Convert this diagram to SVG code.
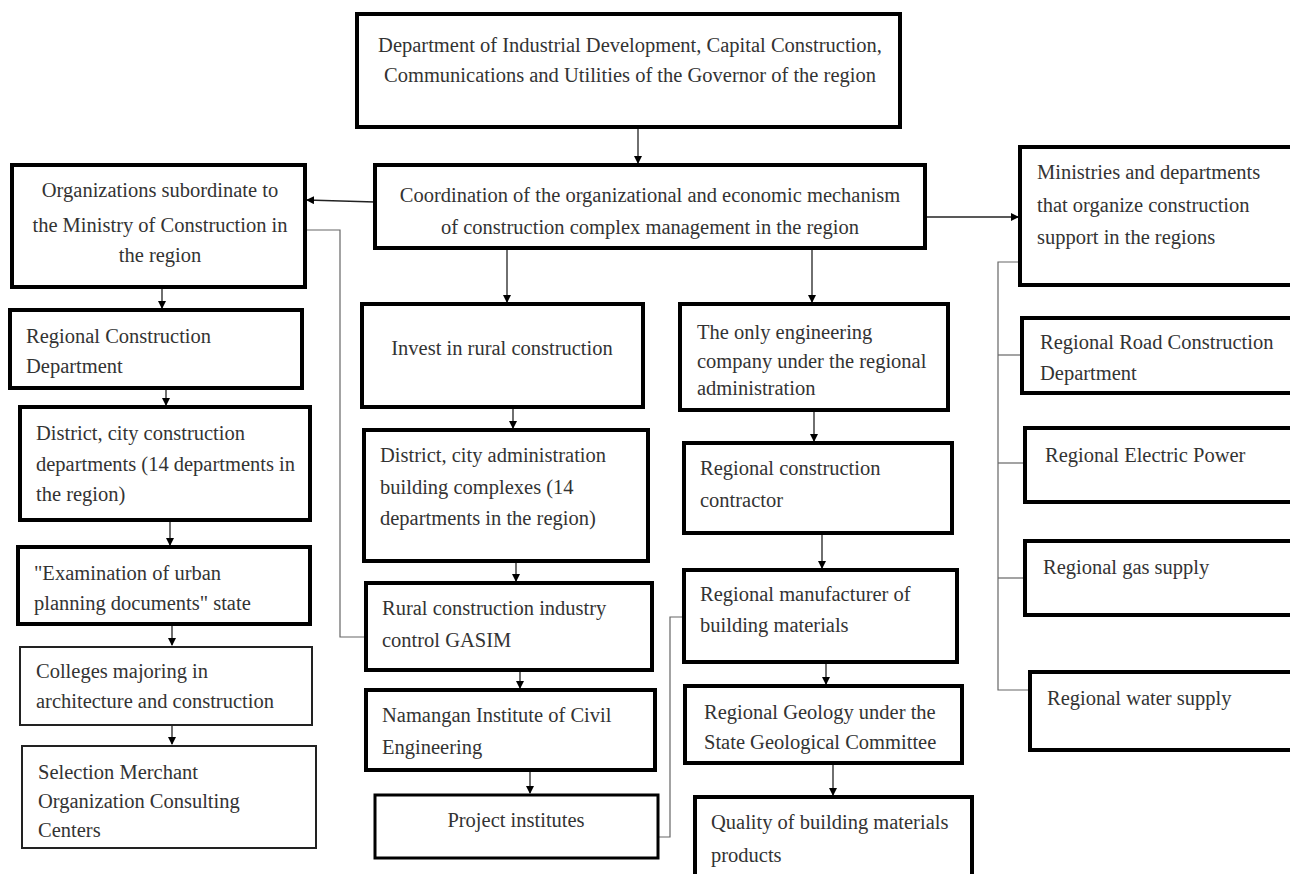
<svg xmlns="http://www.w3.org/2000/svg" width="1290" height="874" viewBox="0 0 1290 874">
<style>
.b{fill:#fff;stroke:#000;stroke-width:4}
.bt{fill:#fff;stroke:#222;stroke-width:2}
.bm{fill:#fff;stroke:#000;stroke-width:3}
text{font-family:"Liberation Serif","Times New Roman",serif;font-size:20.5px;fill:#333}
.c{text-anchor:middle}
.ln{fill:none;stroke:#222;stroke-width:1.3}
.lg{fill:none;stroke:#666;stroke-width:1.2}
</style>
<defs>
<marker id="ah" markerWidth="8" markerHeight="8" refX="7" refY="4" orient="auto" markerUnits="userSpaceOnUse">
<path d="M0,0 L8,4 L0,8 z" fill="#000"/>
</marker>
</defs>
<rect width="1290" height="874" fill="#fff"/>
<g id="connectors">
<line class="ln" x1="638" y1="127" x2="638" y2="163" marker-end="url(#ah)"/>
<line class="ln" x1="375" y1="202" x2="307" y2="200" marker-end="url(#ah)"/>
<line class="ln" x1="925" y1="217" x2="1018" y2="217" marker-end="url(#ah)"/>
<line class="ln" x1="507" y1="248" x2="507" y2="302" marker-end="url(#ah)"/>
<line class="ln" x1="812" y1="248" x2="812" y2="302" marker-end="url(#ah)"/>
<line class="ln" x1="162" y1="287" x2="162" y2="308" marker-end="url(#ah)"/>
<line class="ln" x1="166" y1="388" x2="166" y2="405" marker-end="url(#ah)"/>
<line class="ln" x1="170" y1="520" x2="170" y2="545" marker-end="url(#ah)"/>
<line class="ln" x1="172" y1="624" x2="172" y2="645" marker-end="url(#ah)"/>
<line class="ln" x1="172" y1="725" x2="172" y2="744" marker-end="url(#ah)"/>
<line class="ln" x1="513" y1="407" x2="513" y2="428" marker-end="url(#ah)"/>
<line class="ln" x1="516" y1="561" x2="516" y2="581" marker-end="url(#ah)"/>
<line class="ln" x1="520" y1="670" x2="520" y2="688" marker-end="url(#ah)"/>
<line class="ln" x1="530" y1="770" x2="530" y2="793" marker-end="url(#ah)"/>
<line class="ln" x1="814" y1="410" x2="814" y2="441" marker-end="url(#ah)"/>
<line class="ln" x1="822" y1="533" x2="822" y2="568" marker-end="url(#ah)"/>
<line class="ln" x1="826" y1="662" x2="826" y2="684" marker-end="url(#ah)"/>
<line class="ln" x1="833" y1="763" x2="833" y2="795" marker-end="url(#ah)"/>
<polyline class="lg" points="305,230 340,230 340,637 364,637"/>
<polyline class="lg" points="658,837 670,837 670,617 684,617"/>
<polyline class="lg" points="1020,262 998,262 998,690 1030,690"/>
<line class="lg" x1="998" y1="355" x2="1022" y2="355"/>
<line class="lg" x1="998" y1="463" x2="1025" y2="463"/>
<line class="lg" x1="998" y1="578" x2="1025" y2="578"/>
</g>
<g id="n-top"><rect class="b" x="357" y="14" width="543" height="113"/>
<text class="c" x="630" y="52">Department of Industrial Development, Capital Construction,</text>
<text class="c" x="630" y="82">Communications and Utilities of the Governor of the region</text></g>
<g id="n-coord"><rect class="b" x="375" y="165" width="550" height="83"/>
<text class="c" x="650" y="202">Coordination of the organizational and economic mechanism</text>
<text class="c" x="650" y="234">of construction complex management in the region</text></g>
<g id="n-org"><rect class="b" x="12" y="165" width="293" height="122"/>
<text class="c" x="160" y="197">Organizations subordinate to</text>
<text class="c" x="160" y="232">the Ministry of Construction in</text>
<text class="c" x="160" y="262">the region</text></g>
<g id="n-min"><rect class="b" x="1020" y="147" width="272" height="138"/>
<text x="1037" y="179">Ministries and departments</text>
<text x="1037" y="212">that organize construction</text>
<text x="1037" y="244">support in the regions</text></g>
<g id="n-road"><rect class="b" x="1022" y="318" width="270" height="75"/>
<text x="1040" y="349">Regional Road Construction</text>
<text x="1040" y="380">Department</text></g>
<g id="n-elec"><rect class="b" x="1025" y="428" width="267" height="74"/>
<text x="1045" y="462">Regional Electric Power</text></g>
<g id="n-gas"><rect class="b" x="1025" y="541" width="267" height="74"/>
<text x="1043" y="574">Regional gas supply</text></g>
<g id="n-water"><rect class="b" x="1030" y="672" width="262" height="78"/>
<text x="1047" y="705">Regional water supply</text></g>
<g id="n-rcd"><rect class="b" x="10" y="310" width="292" height="78"/>
<text x="26" y="343">Regional Construction</text>
<text x="26" y="373">Department</text></g>
<g id="n-dccd"><rect class="b" x="20" y="407" width="290" height="113"/>
<text x="36" y="440">District, city construction</text>
<text x="36" y="471">departments (14 departments in</text>
<text x="36" y="501">the region)</text></g>
<g id="n-exam"><rect class="b" x="18" y="547" width="292" height="77"/>
<text x="34" y="580">"Examination of urban</text>
<text x="34" y="610">planning documents" state</text></g>
<g id="n-coll"><rect class="bt" x="20" y="647" width="292" height="78"/>
<text x="36" y="678">Colleges majoring in</text>
<text x="36" y="708">architecture and construction</text></g>
<g id="n-sel"><rect class="bt" x="22" y="746" width="294" height="102"/>
<text x="38" y="779">Selection Merchant</text>
<text x="38" y="808">Organization Consulting</text>
<text x="38" y="837">Centers</text></g>
<g id="n-invest"><rect class="b" x="362" y="304" width="281" height="103"/>
<text class="c" x="502" y="355">Invest in rural construction</text></g>
<g id="n-dcab"><rect class="b" x="364" y="430" width="284" height="131"/>
<text x="380" y="462">District, city administration</text>
<text x="380" y="494">building complexes (14</text>
<text x="380" y="525">departments in the region)</text></g>
<g id="n-rural"><rect class="b" x="366" y="583" width="286" height="87"/>
<text x="382" y="615">Rural construction industry</text>
<text x="382" y="647">control GASIM</text></g>
<g id="n-nam"><rect class="b" x="366" y="690" width="289" height="80"/>
<text x="382" y="722">Namangan Institute of Civil</text>
<text x="382" y="754">Engineering</text></g>
<g id="n-proj"><rect class="bm" x="375" y="795" width="283" height="63"/>
<text class="c" x="516" y="827">Project institutes</text></g>
<g id="n-eng"><rect class="b" x="680" y="304" width="268" height="106"/>
<text x="697" y="339">The only engineering</text>
<text x="697" y="368">company under the regional</text>
<text x="697" y="395">administration</text></g>
<g id="n-contr"><rect class="b" x="684" y="443" width="268" height="90"/>
<text x="700" y="475">Regional construction</text>
<text x="700" y="507">contractor</text></g>
<g id="n-manu"><rect class="b" x="684" y="570" width="273" height="92"/>
<text x="700" y="601">Regional manufacturer of</text>
<text x="700" y="632">building materials</text></g>
<g id="n-geo"><rect class="b" x="685" y="686" width="277" height="77"/>
<text x="704" y="719">Regional Geology under the</text>
<text x="704" y="749">State Geological Committee</text></g>
<g id="n-qual"><rect class="b" x="695" y="797" width="277" height="80"/>
<text x="711" y="829">Quality of building materials</text>
<text x="711" y="862">products</text></g>
</svg>
